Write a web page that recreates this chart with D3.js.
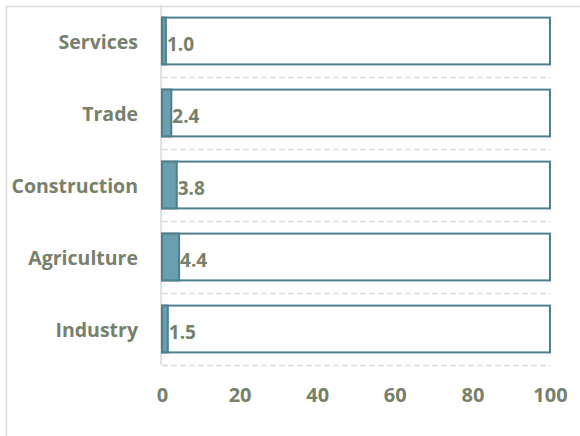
<!DOCTYPE html>
<html><head><meta charset="utf-8">
<script src="https://cdn.jsdelivr.net/npm/d3@7"></script>
<style>body{margin:0;background:#fff;} svg{display:block;}</style>
</head><body>
<svg id="c" width="580" height="436"></svg>
<script>
const categories = ["Services", "Trade", "Construction", "Agriculture", "Industry"];
const values = [1.0, 2.4, 3.8, 4.4, 1.5];
const totals = [100, 100, 100, 100, 100];
const xTicks = [0, 20, 40, 60, 80, 100];

const svg = d3.select("#c");
const textColor = "#76806a";
const font = "'Open Sans', sans-serif";

// outer frame
svg.append("path").attr("d", "M6.5,436 V6.5 H580").attr("fill","none").attr("stroke","#d9d9d9").attr("stroke-width",1.5);

const x = d3.scaleLinear().domain([0, 100]).range([162, 550]);
const y = d3.scaleBand().domain(categories).range([5, 365]).paddingInner(0.35).paddingOuter(0.175);

// dashed gridlines between categories
const bounds = categories.map(c => y(c) - y.step()*y.paddingInner()/2 + y.step());
svg.append("g").selectAll("line").data(bounds).join("line")
  .attr("x1", 162).attr("x2", 550)
  .attr("y1", d => Math.round(d)+0.5).attr("y2", d => Math.round(d)+0.5)
  .attr("stroke", "#d9d9d9").attr("stroke-width", 1.5).attr("stroke-dasharray", "6,3");

// axis line
svg.append("line").attr("x1",161).attr("x2",161).attr("y1",5).attr("y2",365)
  .attr("stroke","#d9d9d9").attr("stroke-width",1.5);

// background bars
svg.append("g").selectAll("rect").data(categories).join("rect")
  .attr("x", x(0)).attr("y", c => y(c))
  .attr("width", (c,i) => x(totals[i]) - x(0)).attr("height", y.bandwidth())
  .attr("fill", "#fff").attr("stroke", "#4e7f8e").attr("stroke-width", 2);

// value bars
svg.append("g").selectAll("rect").data(categories).join("rect")
  .attr("x", x(0)).attr("y", c => y(c))
  .attr("width", (c,i) => x(values[i]) - x(0)).attr("height", y.bandwidth())
  .attr("fill", "#6a9fb0").attr("stroke", "#4e7f8e").attr("stroke-width", 2);

// value labels
svg.append("g").selectAll("text").data(categories).join("text")
  .attr("x", (c,i) => x(values[i]) + 1)
  .attr("y", c => y(c) + y.bandwidth()/2 + 3)
  .attr("dy", "0.36em")
  .attr("fill", textColor).attr("font-family", font).attr("font-weight", "bold").attr("font-size", 19)
  .text((c,i) => values[i].toFixed(1));

// category labels
const yAxis = d3.axisLeft(y).tickSize(0).tickPadding(23);
const gy = svg.append("g").attr("transform", "translate(161,2)").call(yAxis);
gy.select(".domain").remove();
gy.selectAll("text").attr("fill", textColor).attr("font-family", font).attr("font-weight","bold").attr("font-size", 19.5);

// x axis labels
const xAxis = d3.axisBottom(x).tickValues(xTicks).tickSize(0).tickPadding(23);
const gx = svg.append("g").attr("transform", "translate(0,365)").call(xAxis);
gx.select(".domain").remove();
gx.selectAll("text").attr("fill", textColor).attr("font-family", font).attr("font-weight","bold").attr("font-size", 20);
</script>
</body></html>
